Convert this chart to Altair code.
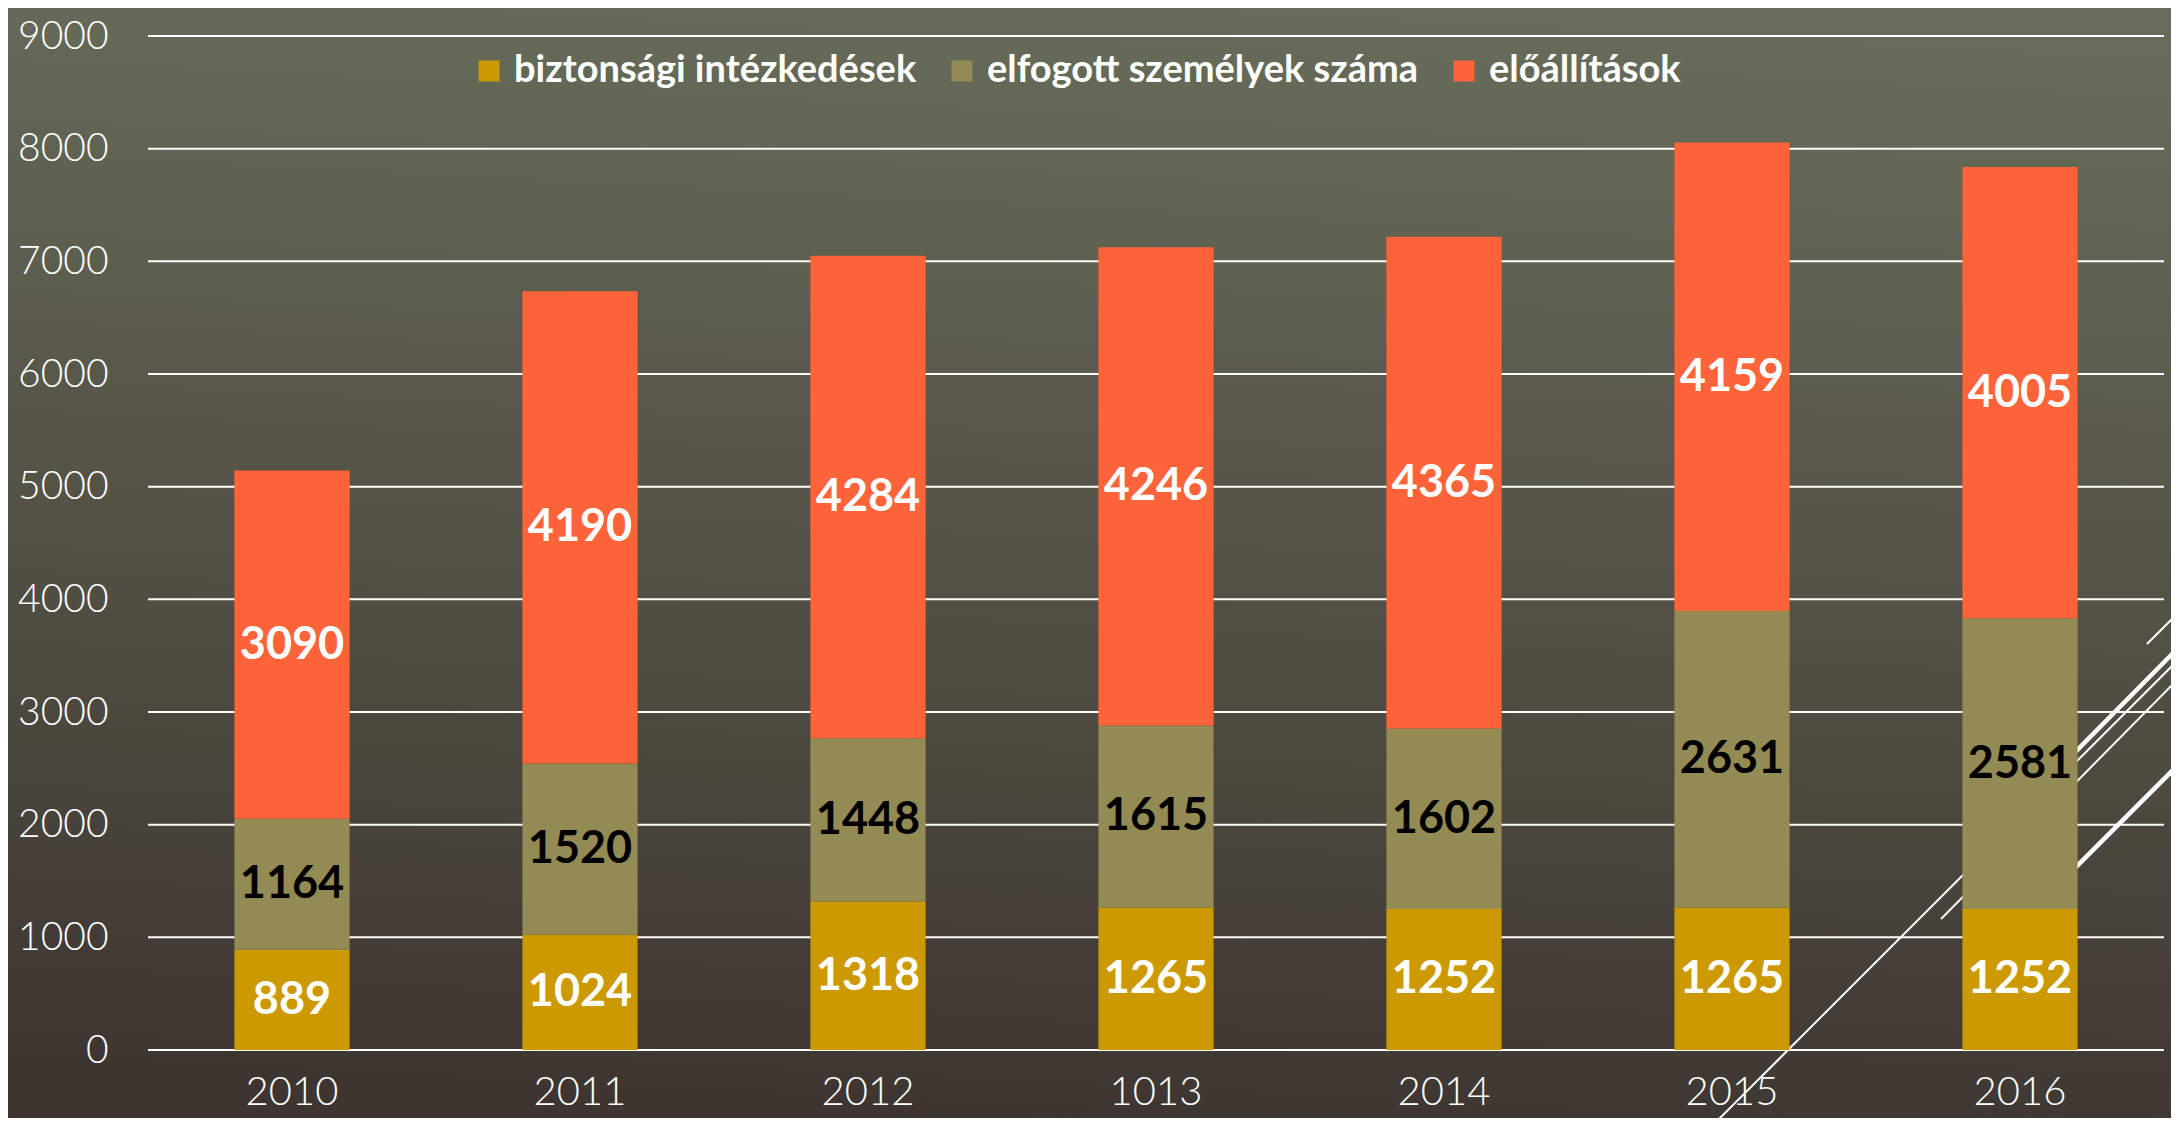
import altair as alt
import pandas as pd

# ---- data ----
years = ["2010", "2011", "2012", "1013", "2014", "2015", "2016"]
series = ["biztonsági intézkedések", "elfogott személyek száma", "előállítások"]
biztonsagi = [889, 1024, 1318, 1265, 1252, 1265, 1252]
elfogott = [1164, 1520, 1448, 1615, 1602, 2631, 2581]
eloallitasok = [3090, 4190, 4284, 4246, 4365, 4159, 4005]
y_ticks = [0, 1000, 2000, 3000, 4000, 5000, 6000, 7000, 8000, 9000]

colors = ["#CC9900", "#948A54", "#FF6339"]

rows = []
for i, yr in enumerate(years):
    for k, vals in enumerate([biztonsagi, elfogott, eloallitasok]):
        rows.append({"year": yr, "series": series[k], "value": vals[i], "order": k})
df = pd.DataFrame(rows)
grid_df = pd.DataFrame({"v": y_ticks})

# ---- layout ----
W, H = 2016, 1014
PAD_L, PAD_T = 140, 28
TOTAL_W, TOTAL_H = 2163, 1110
FONT = "Lato"

x_enc = alt.X(
    "year:N",
    sort=years,
    scale=alt.Scale(paddingInner=0.6, paddingOuter=0.3),
    axis=alt.Axis(
        title=None, domain=False, ticks=False, grid=False, labelAngle=0,
        labelFont=FONT, labelFontSize=40, labelFontWeight=300, labelColor="white",
        labelPadding=22, zindex=1,
    ),
)
y_scale = alt.Scale(domain=[0, 9000], nice=False, zero=True)
y_axis = alt.Axis(
    title=None, domain=False, ticks=False, grid=False, values=y_ticks, format="d",
    labelFont=FONT, labelFontSize=39, labelFontWeight=300, labelColor="white",
    labelPadding=40, zindex=1,
)

one = alt.Data(values=[{"a": 1}])

# background gradient covering whole svg
bg = alt.Chart(one).mark_rect(
    color=alt.Gradient(
        gradient="linear",
        stops=[
            alt.GradientStop(color="#676C5A", offset=0),
            alt.GradientStop(color="#535245", offset=0.5),
            alt.GradientStop(color="#3E3531", offset=1),
        ],
        x1=0.55, x2=0.45, y1=0, y2=1,
    )
).encode(
    x=alt.value(-PAD_L), x2=alt.value(TOTAL_W - PAD_L),
    y=alt.value(-PAD_T), y2=alt.value(TOTAL_H - PAD_T),
)

# decorative theme lines (behind bars), pixel segments relative to plot origin
dy = 20 - PAD_T
deco_segments = [
    (1564, 1098 + dy, 2031, 631 + dy, 2),
    (1872, 780 + dy, 2031, 619 + dy, 4.5),
    (1793, 891 + dy, 2031, 650 + dy, 2),
    (1999, 616 + dy, 2031, 584 + dy, 2),
    (1882, 885 + dy, 2031, 736 + dy, 4.5),
]
deco_layers = [
    alt.Chart(one).mark_rule(color="white", strokeWidth=w).encode(
        x=alt.value(x1), y=alt.value(y1), x2=alt.value(x2), y2=alt.value(y2)
    )
    for (x1, y1, x2, y2, w) in deco_segments
]

grid = alt.Chart(grid_df).mark_rule(color="white", strokeWidth=2).encode(
    y=alt.Y("v:Q", scale=y_scale, axis=y_axis),
    x=alt.value(0), x2=alt.value(W),
)

bars = alt.Chart(df).mark_bar().encode(
    x=x_enc,
    y=alt.Y("value:Q", stack="zero", scale=y_scale, axis=y_axis),
    color=alt.Color(
        "series:N",
        scale=alt.Scale(domain=series, range=colors),
        legend=alt.Legend(
            orient="none", legendX=322, legendY=16, direction="horizontal",
            title=None, symbolType="square", symbolSize=441, symbolStrokeWidth=0,
            symbolOpacity=1, labelFont=FONT, labelFontSize=38, labelFontWeight="bold",
            labelColor="white", labelOffset=6, columnPadding=26, labelLimit=0, zindex=1,
        ),
    ),
    order=alt.Order("order:Q", sort="ascending"),
)

labels = alt.Chart(df).transform_stack(
    stack="value", groupby=["year"], as_=["v0", "v1"],
    sort=[alt.SortField("order", order="ascending")],
).transform_calculate(
    mid="(datum.v0 + datum.v1) / 2"
).mark_text(
    font=FONT, fontSize=45, fontWeight="bold", baseline="middle", align="center"
).encode(
    x=x_enc,
    y=alt.Y("mid:Q", scale=y_scale, axis=y_axis),
    text=alt.Text("value:Q", format="d"),
    color=alt.condition(
        alt.datum.series == "elfogott személyek száma",
        alt.value("black"), alt.value("white"),
    ),
)

chart = alt.layer(bg, *deco_layers, grid, bars, labels).properties(
    width=W, height=H,
    autosize=alt.AutoSizeParams(type="none"),
    padding={"left": PAD_L, "top": PAD_T, "right": TOTAL_W - PAD_L - W, "bottom": TOTAL_H - PAD_T - H},
    background="#535245",
).configure_view(stroke=None)

chart.save("out.html", embed_options={"renderer": "svg", "actions": False})
